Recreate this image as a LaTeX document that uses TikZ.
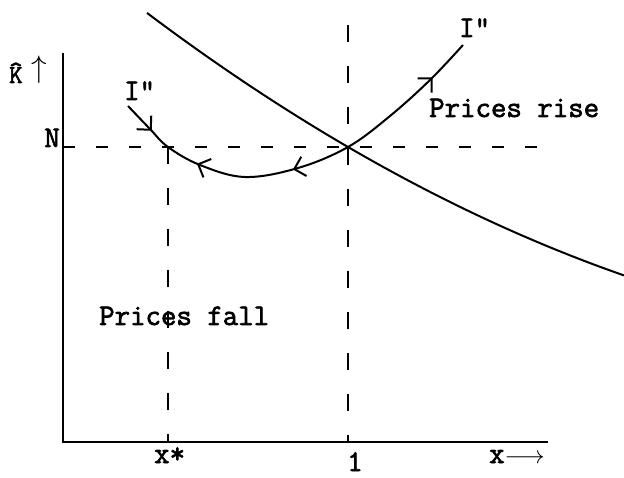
\documentclass[tikz,border=0pt]{standalone}
\usepackage{fontspec}
\setmonofont{Latin Modern Mono}[AutoFakeBold=2.2]
\usetikzlibrary{decorations.markings,arrows.meta}
\tikzset{
  lbl/.style={font=\fontsize{30}{30}\selectfont\ttfamily\bfseries, inner sep=0pt},
  axisline/.style={line width=2.2pt},
  curveline/.style={line width=2pt},
  hdash/.style={line width=1.8pt, dash pattern=on 12pt off 21pt},
  vdash/.style={line width=1.8pt, dash pattern=on 17pt off 24pt},
  barbmark/.tip={Straight Barb[length=10pt,width=20pt,line width=2pt]},
}
\begin{document}
\begin{tikzpicture}[x=1pt,y=-1pt]
\useasboundingbox (0,0) rectangle (624,478);
% axes
\coordinate (ytop) at (63,53);
\coordinate (O) at (63,442);
\coordinate (xend) at (548,442);
\draw[axisline] (ytop) -- (O) -- (xend);
% reference points
\coordinate (E) at (348,147);
\coordinate (Nl) at (63,147);
\coordinate (Nr) at (556,147);
\coordinate (S) at (168,147);
\coordinate (Sb) at (168,442);
\coordinate (Et) at (348,25);
\coordinate (Eb) at (348,442);
% dashed guides
\draw[hdash] (Nl) -- (Nr);
\draw[vdash] (S) -- (Sb);
\draw[vdash] (Et) -- (Eb);
% falling curve
\draw[curveline] plot[domain=147:624, samples=60, smooth]
  (\x, {147+0.582*(\x-348)-4.23*((\x-348)/100)^2});
% I'' curve with direction marks
\draw[curveline,
  decoration={markings,
    mark=at position 0.085 with {\arrow{barbmark}},
    mark=at position 0.225 with {\arrowreversed{barbmark}},
    mark=at position 0.47 with {\arrowreversed{barbmark}},
    mark=at position 0.89 with {\arrow{barbmark}}},
  postaction={decorate}]
  plot[smooth, tension=0.6] coordinates
  {(128,106) (150,129) (168,147) (200,165) (245,177) (298,168) (348,147) (390,116) (430,80) (463,45)};
% labels
\node[lbl, anchor=base west] (khat) at (9,83)
  {\fontsize{26}{26}\selectfont\ooalign{K\cr\hidewidth\raisebox{0.16em}{\^{}}\hidewidth\cr}};
\node[lbl, anchor=base west] (kup) at (31,78) {\fontsize{24}{24}\selectfont\scalebox{1.25}{$\uparrow$}};
\node[lbl, anchor=base east] (nlab) at (60,147) {N};
\node[lbl, anchor=base west] (ileft) at (124,100) {I"};
\node[lbl, anchor=base west] (iright) at (459,37) {I"};
\node[lbl, anchor=base west] (rise) at (429,117) {Prices rise};
\node[lbl, anchor=base west] (fall) at (99,325) {Prices fall};
\node[lbl, anchor=base west] (xstar) at (154,463) {x*};
\node[lbl, anchor=base] (one) at (355,471) {1};
\node[lbl, anchor=base west] (xlab) at (489,463) {x\fontsize{24}{24}\selectfont$\longrightarrow$};
\end{tikzpicture}
\end{document}
